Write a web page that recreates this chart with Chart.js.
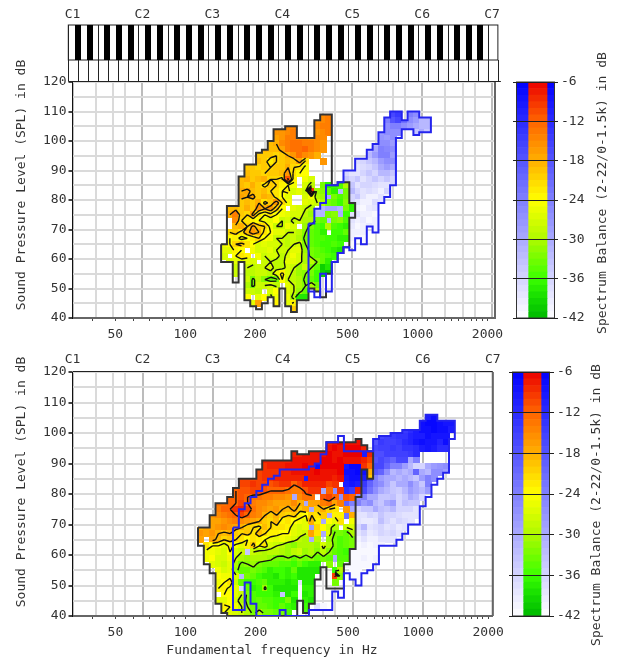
<!DOCTYPE html>
<html>
<head>
<meta charset="utf-8">
<title>Voice range profiles</title>
<script src="https://cdn.jsdelivr.net/npm/chart.js@4"></script>
<style>
html, body { margin: 0; padding: 0; background: #fff; }
canvas { position: absolute; }
</style>
</head>
<body>
<canvas id="topPlot" width="510" height="345" style="left:0;top:0"></canvas>
<canvas id="topBar" width="122" height="345" style="left:500px;top:0"></canvas>
<canvas id="bottomPlot" width="510" height="313" style="left:0;top:345px"></canvas>
<canvas id="bottomBar" width="122" height="313" style="left:500px;top:345px"></canvas>
<script>
"use strict";

// notes are semitones above C1, cells hold the balance in -dB, 0 is a gap
var TICK_HZ = [40, 50, 60, 70, 80, 90, 100, 150, 200, 250, 300, 350, 400, 450, 500, 550, 600, 650, 700, 750, 800, 850, 900, 950, 1000, 1100, 1200, 1300, 1400, 1500, 1600, 1700, 1800, 1900, 2000];
var LABEL_HZ = [50, 100, 200, 500, 1000, 2000];
var NOTE_OFFSETS = [0, 4, 7, 9];
var BLACK_KEYS = [1, 3, 6, 8, 10];
var BAR_TICK_DB = [-6, -12, -18, -24, -30, -36, -42];
var CONTOUR_LEVELS = [12, 18, 21, 24, 28, 32];

var topLowFirstNote = 26;
var topLowHigh = [65, 78, 78, 88, 92, 92, 96, 97, 100, 104, 104, 105, 105, 101, 101, 101, 107, 109, 109, 85, 86, 86, 79];
var topLowLow = [59, 59, 52, 59, 46, 44, 43, 45, 47, 44, 50, 44, 42, 46, 46, 50, 49, 47, 55, 59, 62, 64, 74];
var topLowRows = [
    [108, 43, 15, 14],
    [106, 42, 16, 15, 14],
    [104, 35, 17, 16, 15, 15, 0, 0, 0, 15, 14, 14],
    [102, 35, 16, 16, 15, 14, 0, 0, 0, 16, 15, 14],
    [100, 34, 18, 17, 16, 14, 14, 15, 15, 16, 15, 15, 0],
    [98, 34, 19, 18, 15, 14, 13, 13, 14, 14, 15, 16, 0],
    [96, 32, 20, 18, 19, 19, 17, 14, 13, 13, 12, 14, 15, 16, 0],
    [94, 30, 19, 20, 20, 20, 20, 21, 20, 18, 16, 13, 15, 16, 18, 0, 0],
    [92, 30, 19, 21, 19, 20, 23, 21, 20, 19, 20, 17, 22, 0, 0, 16, 0],
    [90, 29, 18, 20, 20, 21, 20, 21, 20, 20, 18, 21, 22, 25],
    [88, 29, 18, 19, 20, 20, 21, 20, 20, 19, 16, 22, 24, 24],
    [86, 29, 19, 18, 20, 19, 18, 21, 21, 22, 11, 23, 0, 25, 27, 0, 0, 0, 30, 30, 33],
    [84, 29, 19, 20, 18, 20, 22, 20, 21, 23, 24, 25, 0, 27, 29, 0, 33, 37, 36, 35, 30],
    [82, 29, 18, 17, 19, 20, 19, 21, 22, 24, 23, 27, 26, 28, 9, 31, 32, 34, 37, 0, 33],
    [80, 29, 17, 18, 17, 20, 18, 19, 22, 24, 26, 0, 0, 27, 25, 30, 31, 0, 33, 35, 33],
    [78, 27, 19, 17, 20, 19, 20, 18, 22, 20, 16, 21, 25, 0, 0, 26, 27, 28, 30, 33, 34, 36, 32, 38],
    [76, 27, 19, 19, 20, 18, 20, 16, 18, 16, 20, 24, 0, 26, 27, 28, 30, 0, 0, 0, 0, 0, 33, 37],
    [74, 27, 18, 14, 20, 21, 17, 22, 24, 22, 24, 25, 26, 27, 27, 29, 31, 0, 0, 33, 32, 0, 36],
    [72, 27, 0, 15, 21, 22, 23, 24, 25, 26, 24, 28, 27, 29, 28, 30, 30, 33, 34, 0, 33, 32, 35],
    [70, 27, 0, 19, 18, 21, 17, 20, 21, 25, 28, 28, 25, 27, 0, 31, 33, 35, 36, 30, 35, 36, 37],
    [68, 27, 21, 20, 22, 19, 16, 18, 22, 24, 26, 26, 28, 28, 29, 32, 34, 35, 37, 0, 36, 36, 34],
    [66, 27, 24, 23, 25, 24, 23, 21, 24, 25, 28, 28, 29, 28, 30, 33, 34, 35, 35, 36, 36, 37, 37],
    [64, 26, 25, 24, 21, 20, 22, 24, 27, 26, 27, 27, 28, 29, 28, 27, 32, 34, 35, 36, 36, 35, 36],
    [62, 26, 26, 26, 23, 24, 0, 25, 27, 27, 26, 28, 28, 28, 26, 26, 31, 33, 34, 35, 36, 37, 38],
    [60, 26, 27, 0, 24, 22, 23, 0, 25, 28, 27, 27, 29, 27, 25, 27, 30, 33, 34, 34, 35, 36],
    [58, 27, 27, 26, 26, 26, 27, 0, 28, 28, 29, 29, 26, 26, 27, 30, 29, 32, 34, 37],
    [56, 28, 28, 0, 28, 29, 28, 28, 27, 29, 29, 27, 28, 31, 28, 32, 34, 40, 38],
    [54, 28, 28, 0, 29, 29, 28, 28, 29, 26, 23, 27, 29, 31, 32, 33, 36, 40, 41],
    [52, 30, 28, 33, 29, 32, 34, 33, 24, 28, 29, 30, 33, 34, 36, 0],
    [50, 30, 30, 33, 28, 28, 27, 29, 0, 26, 28, 30, 32, 30, 33, 0],
    [48, 30, 28, 28, 29, 0, 27, 24, 26, 26, 28, 31, 34, 0, 30],
    [46, 30, 24, 0, 26, 24, 29, 25, 27, 25, 30, 38, 38],
    [44, 31, 26, 17, 0, 0, 23, 0, 26, 23],
    [42, 38, 20]
];

var topHighFirstNote = 41;
var topHighHigh = [72, 77, 79, 85, 85, 86, 90, 90, 94, 94, 97, 99, 103, 108, 110, 110, 107, 110, 110, 108, 108];
var topHighLow = [49, 47, 55, 49, 59, 62, 64, 63, 67, 65, 71, 69, 79, 81, 85, 101, 104, 104, 102, 103, 103];
var topHighRows = [
    [108, 54, 22, 16, 14, 0, 24, 26, 26, 28],
    [106, 54, 24, 18, 16, 22, 26, 28, 32, 32],
    [104, 53, 28, 26, 24, 24, 26, 28, 30, 32, 32],
    [102, 53, 28, 26, 26, 26, 0, 0, 34, 30, 34],
    [100, 53, 27, 28, 26, 0],
    [98, 52, 32, 26, 26, 28],
    [96, 51, 34, 30, 24, 25, 26],
    [94, 49, 36, 34, 32, 28, 24, 24, 28],
    [92, 49, 37, 36, 34, 32, 28, 26, 26],
    [90, 47, 0, 38, 38, 37, 36, 34, 30, 28, 30],
    [88, 47, 36, 38, 38, 36, 34, 36, 32, 32, 34],
    [86, 46, 30, 34, 36, 34, 38, 36, 34, 36, 34, 36],
    [84, 44, 32, 30, 30, 32, 34, 38, 36, 36, 37, 38, 38, 36],
    [82, 44, 30, 28, 32, 34, 32, 36, 38, 37, 38, 40, 36, 0],
    [80, 43, 32, 30, 30, 33, 36, 36, 34, 38, 40, 40, 38, 40],
    [78, 42, 34, 32, 30, 30, 32, 34, 36, 38, 40, 40, 37, 38],
    [76, 42, 33, 31, 29, 29, 31, 34, 38, 40, 41, 39, 38, 40],
    [74, 42, 32, 31, 30, 30, 30, 33, 38, 38, 40, 40, 41, 40],
    [72, 41, 34, 35, 33, 32, 33, 31, 33, 38, 40, 39, 41, 40, 41],
    [70, 41, 36, 36, 36, 34, 35, 36, 37, 39, 41, 40, 39, 40, 40],
    [68, 47, 37, 40, 40, 40, 38, 40],
    [66, 47, 38, 40, 41, 41],
    [64, 47, 40, 41]
];

var bottomLowFirstNote = 22;
var bottomLowHigh = [69, 69, 73, 77, 77, 79, 82, 85, 85, 85, 88, 91, 91, 91, 91, 91, 94, 93, 93, 94, 94, 94, 97, 97, 97, 97, 97, 98, 96, 94];
var bottomLowLow = [63, 57, 54, 44, 41, 40, 40, 40, 40, 40, 40, 40, 40, 40, 40, 40, 40, 45, 41, 44, 52, 56, 49, 49, 49, 57, 62, 79, 88, 85];
var bottomLowRows = [
    [96, 44, 8, 7, 6, 7, 7, 7],
    [94, 38, 8, 0, 0, 8, 7, 7, 7, 6, 7, 6, 6, 6, 8, 9],
    [92, 38, 8, 8, 7, 7, 7, 7, 6, 7, 7, 6, 6, 6, 0, 8],
    [90, 32, 9, 8, 8, 8, 8, 8, 7, 7, 7, 7, 7, 6, 6, 7, 6, 7, 7, 7, 8, 10],
    [88, 32, 9, 9, 8, 8, 8, 7, 7, 7, 6, 7, 0, 6, 6, 6, 6, 0, 0, 0, 9, 12],
    [86, 32, 10, 9, 9, 9, 8, 8, 7, 7, 7, 7, 6, 7, 7, 7, 6, 0, 0, 0, 0, 18],
    [84, 29, 10, 10, 10, 10, 9, 9, 8, 8, 8, 8, 8, 0, 7, 7, 7, 7, 8, 7, 0, 0, 0, 0, 20],
    [82, 28, 11, 10, 10, 9, 10, 10, 11, 10, 9, 9, 12, 10, 8, 8, 8, 8, 10, 9, 0, 0, 0, 0],
    [80, 28, 12, 11, 11, 10, 10, 11, 12, 12, 12, 13, 14, 14, 11, 9, 9, 0, 12, 0, 9, 0, 0, 8],
    [78, 27, 12, 12, 11, 12, 13, 13, 14, 14, 15, 15, 16, 0, 15, 13, 13, 0, 11, 10, 12, 0, 11, 12, 0],
    [76, 25, 13, 13, 12, 12, 10, 12, 14, 15, 15, 16, 17, 17, 17, 15, 18, 0, 17, 17, 14, 13, 17, 14, 0, 0],
    [74, 25, 14, 12, 12, 9, 8, 10, 13, 15, 16, 17, 16, 18, 19, 17, 20, 18, 0, 20, 18, 21, 22, 0, 16, 0],
    [72, 24, 16, 15, 14, 13, 12, 10, 12, 14, 15, 18, 20, 18, 20, 21, 20, 23, 24, 21, 22, 20, 0, 23, 23, 0, 18],
    [70, 24, 17, 17, 16, 15, 14, 15, 16, 17, 18, 20, 21, 19, 23, 22, 24, 25, 26, 18, 23, 0, 24, 26, 22, 0, 25],
    [68, 22, 18, 17, 17, 16, 15, 16, 17, 18, 20, 21, 22, 19, 21, 22, 22, 23, 26, 27, 26, 0, 21, 24, 27, 30, 0, 28, 27],
    [66, 22, 16, 17, 16, 18, 19, 18, 20, 21, 20, 22, 19, 21, 23, 23, 24, 24, 26, 27, 28, 17, 22, 0, 26, 33, 33, 34, 30],
    [64, 22, 17, 0, 17, 19, 21, 20, 21, 22, 24, 22, 23, 24, 25, 26, 25, 26, 27, 29, 30, 0, 29, 0, 31, 33, 35, 34, 33],
    [62, 23, 22, 24, 24, 26, 23, 25, 26, 23, 20, 24, 22, 27, 28, 29, 31, 32, 30, 30, 30, 31, 27, 30, 33, 35, 34, 33],
    [60, 23, 25, 25, 26, 27, 24, 27, 28, 0, 28, 29, 30, 29, 29, 30, 31, 29, 28, 31, 30, 32, 29, 32, 34, 35, 36],
    [58, 23, 25, 24, 27, 27, 25, 28, 30, 31, 30, 30, 30, 31, 33, 33, 32, 34, 32, 33, 32, 34, 33, 34, 0, 35, 35],
    [56, 24, 26, 27, 28, 26, 30, 33, 32, 31, 33, 34, 34, 34, 35, 35, 36, 34, 36, 37, 37, 0, 32, 0, 34],
    [54, 25, 25, 27, 26, 31, 34, 34, 33, 34, 35, 37, 36, 36, 37, 34, 38, 38, 38, 38, 0, 0, 36, 30],
    [52, 25, 24, 25, 25, 27, 0, 33, 34, 36, 37, 37, 38, 36, 37, 36, 38, 38, 38, 0, 0, 0, 10, 32],
    [50, 25, 25, 24, 22, 28, 34, 36, 36, 35, 34, 37, 37, 37, 38, 37, 0, 38, 38, 0, 0, 0, 33, 0],
    [48, 25, 24, 23, 25, 26, 0, 34, 37, 36, 31, 36, 38, 38, 38, 38, 0, 37, 37],
    [46, 25, 0, 24, 24, 26, 28, 33, 35, 36, 36, 36, 37, 0, 38, 36, 0, 38, 37],
    [44, 25, 26, 26, 24, 27, 30, 33, 35, 34, 35, 35, 36, 36, 33, 38, 0, 37, 38],
    [42, 26, 23, 24, 25, 28, 32, 33, 34, 34, 35, 36, 34, 36, 37, 0, 36, 37],
    [40, 26, 24, 26, 27, 28, 30, 33, 30, 33, 33, 34, 33, 35, 0, 0, 35, 0]
];

var bottomHighFirstNote = 28;
var bottomHighHigh = [69, 75, 77, 79, 81, 83, 85, 86, 88, 88, 88, 88, 88, 89, 90, 93, 97, 97, 99, 94, 94, 94, 94, 94, 98, 99, 99, 100, 100, 101, 101, 101, 104, 106, 106, 104, 104, 104];
var bottomHighLow = [42, 42, 51, 44, 40, 40, 40, 40, 42, 40, 40, 40, 40, 42, 42, 42, 42, 48, 46, 54, 52, 50, 54, 55, 57, 63, 63, 63, 65, 67, 70, 70, 76, 79, 83, 85, 87, 98];
var bottomHighRows = [
    [104, 60, 12, 10, 8, 8, 8, 9],
    [102, 57, 16, 12, 12, 8, 7, 7, 8, 9, 9],
    [100, 52, 24, 20, 18, 16, 16, 14, 12, 10, 8, 8, 7, 8, 8, 10],
    [98, 52, 20, 16, 15, 14, 13, 13, 11, 10, 10, 8, 9, 9, 9, 0],
    [96, 52, 18, 14, 15, 15, 14, 12, 11, 9, 8, 9, 9, 11, 8],
    [94, 50, 18, 16, 16, 15, 15, 14, 15, 13, 13, 12, 10, 9, 10, 12, 12],
    [92, 47, 8, 7, 8, 10, 14, 17, 17, 15, 15, 15, 15, 14, 12, 0, 0, 0, 0, 0],
    [90, 47, 8, 8, 7, 11, 12, 18, 16, 18, 20, 16, 16, 30, 24, 0, 0, 0, 0, 0],
    [88, 47, 9, 7, 7, 9, 11, 16, 16, 20, 24, 24, 28, 32, 36, 36, 30, 28, 27, 26],
    [86, 47, 8, 8, 7, 8, 13, 18, 20, 26, 32, 30, 32, 30, 20, 30, 32, 26, 26, 28],
    [84, 44, 20, 22, 14, 9, 8, 8, 10, 16, 24, 28, 30, 30, 32, 30, 32, 34, 28, 24, 26],
    [82, 47, 10, 9, 10, 14, 20, 24, 26, 30, 34, 30, 30, 26, 30, 34, 24],
    [80, 45, 26, 24, 12, 14, 16, 16, 22, 26, 30, 32, 34, 35, 32, 28, 30, 32, 28],
    [78, 46, 26, 16, 18, 26, 24, 30, 30, 34, 34, 33, 36, 34, 30, 32, 36],
    [76, 46, 26, 20, 24, 24, 28, 26, 32, 34, 30, 28, 36, 33, 34, 34],
    [74, 47, 24, 30, 36, 34, 34, 30, 33, 34, 32, 36, 36, 36, 38],
    [72, 47, 22, 32, 38, 38, 36, 37, 34, 36, 36, 37, 38, 38, 38],
    [70, 48, 30, 38, 39, 39, 38, 33, 36, 38, 36, 37, 38],
    [68, 48, 34, 36, 32, 38, 37, 36, 38, 37, 39, 38],
    [66, 49, 38, 36, 39, 38, 36, 37, 36, 38],
    [64, 49, 40, 38, 40, 40, 38, 38, 38],
    [62, 49, 41, 40, 41, 40, 40],
    [60, 48, 41, 41, 41, 41, 41],
    [58, 47, 41, 41, 41, 40, 41, 40],
    [56, 47, 40, 41, 41, 41, 41],
    [54, 48, 41, 41],
    [52, 48, 41, 41],
    [88, 42, 8],
    [84, 40, 10],
    [80, 43, 30],
    [78, 38, 30],
    [76, 40, 30],
    [74, 41, 30],
    [72, 44, 30],
    [70, 43, 30],
    [68, 41, 28],
    [66, 43, 30],
    [64, 41, 30],
    [58, 45, 30],
    [50, 39, 38],
    [48, 39, 41],
    [46, 39, 41],
    [44, 39, 41],
    [46, 36, 34],
    [60, 30, 34],
    [48, 29, 36],
    [52, 29, 32],
    [42, 42, 38],
    [42, 43, 41]
];

function noteHz(note) {
    return 32.703 * Math.pow(2, note / 12);
}

function mix(stops, v) {
    for (var i = 0; i < stops.length - 1; i++) {
        if (v >= stops[i][0] && v <= stops[i + 1][0]) {
            var t = (v - stops[i][0]) / (stops[i + 1][0] - stops[i][0]);
            var c = [1, 2, 3].map(function(k) {
                return Math.round(stops[i][k] + (stops[i + 1][k] - stops[i][k]) * t);
            });
            return 'rgb(' + c.join(',') + ')';
        }
    }
    return '#fff';
}

var WARM_STOPS = [[6, 235, 0, 0], [12, 255, 100, 0], [18, 255, 175, 0], [24, 255, 255, 0], [30, 175, 250, 0], [36, 60, 255, 0], [39, 20, 220, 0], [42, 0, 185, 0]];
var COOL_STOPS = [[6, 0, 0, 255], [42, 255, 255, 255]];

function warmColor(v) {
    return mix(WARM_STOPS, v);
}

function coolColor(v) {
    return mix(COOL_STOPS, v);
}

var imageCache = {};
function cellImage(color) {
    if (!imageCache[color]) {
        var c = document.createElement('canvas');
        c.width = 7;
        c.height = 4;
        var g = c.getContext('2d');
        g.fillStyle = color;
        g.fillRect(0, 0, 7, 4);
        imageCache[color] = c;
    }
    return imageCache[color];
}

function buildCells(rows, firstNote, high, low) {
    var cells = [];
    rows.forEach(function(r) {
        r.slice(2).forEach(function(v, i) {
            var col = r[1] + i - firstNote;
            if (v > 0 && col >= 0 && col < high.length) {
                for (var k = r[0]; k < r[0] + 2; k++) {
                    if (k >= low[col] && k < high[col]) {
                        cells.push({x: noteHz(r[1] + i), y: k + 0.5, v: v});
                    }
                }
            }
        });
    });
    return cells;
}

function buildOutline(firstNote, high, low) {
    var pts = [];
    high.forEach(function(h, i) {
        pts.push({x: noteHz(firstNote + i - 0.5), y: h});
        pts.push({x: noteHz(firstNote + i + 0.5), y: h});
    });
    for (var i = low.length - 1; i >= 0; i--) {
        pts.push({x: noteHz(firstNote + i + 0.5), y: low[i]});
        pts.push({x: noteHz(firstNote + i - 0.5), y: low[i]});
    }
    pts.push(pts[0]);
    return pts;
}

// iso lines over the cell grid, squares touching a gap are left out
function buildContours(rows, firstNote, high, low) {
    var grid = {};
    rows.forEach(function(r) {
        r.slice(2).forEach(function(v, i) {
            var col = r[1] + i - firstNote;
            if (v > 0 && r[0] + 1 >= low[col] && r[0] + 1 <= high[col]) {
                grid[(r[1] + i) + '_' + r[0]] = v;
            }
        });
    });
    var pts = [];
    function crossing(hits, l, n1, d1, n2, d2) {
        var a = grid[n1 + '_' + d1], b = grid[n2 + '_' + d2];
        if ((a < l) !== (b < l)) {
            var t = (l - a) / (b - a);
            hits.push({x: noteHz(n1 + (n2 - n1) * t), y: d1 + 1 + (d2 - d1) * t});
        }
    }
    CONTOUR_LEVELS.forEach(function(l) {
        for (var n = firstNote; n < firstNote + high.length - 1; n++) {
            for (var d = 40; d < 110; d += 2) {
                if (grid[n + '_' + d] && grid[(n + 1) + '_' + d] && grid[n + '_' + (d + 2)] && grid[(n + 1) + '_' + (d + 2)]) {
                    var hits = [];
                    crossing(hits, l, n, d, n + 1, d);
                    crossing(hits, l, n + 1, d, n + 1, d + 2);
                    crossing(hits, l, n + 1, d + 2, n, d + 2);
                    crossing(hits, l, n, d + 2, n, d);
                    for (var h = 0; h + 1 < hits.length; h += 2) {
                        pts.push(hits[h], hits[h + 1], {x: NaN, y: NaN});
                    }
                }
            }
        }
    });
    return pts;
}

function fixedSize(prop, size) {
    return function(scale) {
        scale[prop] = size;
    };
}

var sideTextPlugin = {
    id: 'sideText',
    afterDraw: function(chart, args, opts) {
        var ctx = chart.ctx;
        (opts.items || []).forEach(function(t) {
            ctx.save();
            ctx.translate(t.x, t.y);
            ctx.rotate(t.rotate ? -Math.PI / 2 : 0);
            ctx.font = '13px "DejaVu Sans Mono"';
            ctx.fillStyle = '#333';
            ctx.textAlign = 'center';
            ctx.textBaseline = 'middle';
            ctx.fillText(t.text, 0, 0);
            ctx.restore();
        });
    }
};

var framePlugin = {
    id: 'plotFrame',
    afterDatasetsDraw: function(chart) {
        var a = chart.chartArea, ctx = chart.ctx;
        ctx.save();
        ctx.strokeStyle = '#666';
        ctx.lineWidth = 2;
        ctx.beginPath();
        ctx.moveTo(a.right, a.top);
        ctx.lineTo(a.right, a.bottom);
        ctx.stroke();
        ctx.strokeStyle = '#222';
        ctx.lineWidth = 1;
        ctx.beginPath();
        ctx.moveTo(a.left, a.top - 0.5);
        ctx.lineTo(a.right, a.top - 0.5);
        ctx.stroke();
        ctx.restore();
    }
};

var keyboardPlugin = {
    id: 'keyboard',
    afterDraw: function(chart, args, opts) {
        if (!opts.show) {
            return;
        }
        var x = chart.scales.xNotes, ctx = chart.ctx;
        var top = 25, split = 60, bottom = chart.chartArea.top - 1;
        var left = x.getPixelForValue(noteHz(0)) - 4.2;
        var whiteWidth = (x.getPixelForValue(noteHz(12)) - x.getPixelForValue(noteHz(0))) / 7;
        ctx.save();
        ctx.fillStyle = '#fff';
        ctx.strokeStyle = '#222';
        ctx.lineWidth = 1;
        ctx.fillRect(left, top, whiteWidth * 43 + 2, bottom - top);
        ctx.strokeRect(left, top, whiteWidth * 43, split - top);
        for (var k = 0; k <= 43; k++) {
            var px = Math.round(left + k * whiteWidth) + 0.5;
            ctx.beginPath();
            ctx.moveTo(px, split);
            ctx.lineTo(px, bottom);
            ctx.stroke();
            if (k % 7 === 0 || k % 7 === 3) {
                ctx.beginPath();
                ctx.moveTo(px, top);
                ctx.lineTo(px, split);
                ctx.stroke();
            }
        }
        ctx.beginPath();
        ctx.moveTo(left, bottom + 0.5);
        ctx.lineTo(left + whiteWidth * 43 + 3, bottom + 0.5);
        ctx.stroke();
        ctx.fillStyle = '#000';
        for (var oct = 0; oct < 6; oct++) {
            BLACK_KEYS.forEach(function(n) {
                var cx = x.getPixelForValue(noteHz(oct * 12 + n));
                ctx.fillRect(Math.round(cx - 3), top, 6, split - top);
            });
        }
        ctx.restore();
    }
};

function makePlot(id, spec) {
    var notes = [];
    for (var oct = 0; oct <= 6; oct++) {
        NOTE_OFFSETS.forEach(function(o) {
            if (oct < 6 || o === 0) {
                notes.push(oct * 12 + o);
            }
        });
    }
    var lineStyle = {showLine: true, pointRadius: 0, fill: false, tension: 0, parsing: true, spanGaps: false};
    return new Chart(document.getElementById(id), {
        type: 'scatter',
        data: {
            datasets: [
                Object.assign({data: buildOutline(spec.highFirst, spec.highHigh, spec.highLow), borderColor: '#2424ee', borderWidth: 2, order: 0}, lineStyle),
                Object.assign({data: buildOutline(spec.lowFirst, spec.lowHigh, spec.lowLow), borderColor: '#333', borderWidth: 2, order: 1}, lineStyle),
                Object.assign({data: buildContours(spec.lowRows, spec.lowFirst, spec.lowHigh, spec.lowLow), borderColor: '#111', borderWidth: 1.4, order: 2}, lineStyle),
                {
                    data: buildCells(spec.lowRows, spec.lowFirst, spec.lowHigh, spec.lowLow),
                    pointRadius: 1,
                    pointStyle: function(c) { return cellImage(warmColor(c.raw.v)); },
                    order: 3
                },
                {
                    data: buildCells(spec.highRows, spec.highFirst, spec.highHigh, spec.highLow),
                    pointRadius: 1,
                    pointStyle: function(c) { return cellImage(coolColor(c.raw.v)); },
                    order: 4
                }
            ]
        },
        options: {
            responsive: false,
            animation: false,
            events: [],
            layout: {padding: {left: 0, right: spec.rightPad, top: 0, bottom: 0}},
            plugins: {
                legend: {display: false},
                tooltip: {enabled: false},
                sideText: {items: spec.titles},
                keyboard: {show: spec.keyboard}
            },
            scales: {
                x: {
                    type: 'logarithmic',
                    position: 'bottom',
                    min: noteHz(0),
                    max: noteHz(spec.lastNote),
                    afterFit: fixedSize('height', spec.belowPlot),
                    afterBuildTicks: function(scale) {
                        scale.ticks = TICK_HZ.map(function(v) { return {value: v}; });
                    },
                    grid: {drawOnChartArea: false, tickLength: 3, tickColor: '#444'},
                    border: {color: '#666', width: 2},
                    ticks: {
                        autoSkip: false,
                        maxRotation: 0,
                        padding: 6,
                        color: '#333',
                        font: {family: 'DejaVu Sans Mono', size: 13},
                        callback: function(v) {
                            return LABEL_HZ.indexOf(v) >= 0 ? String(v) : '';
                        }
                    }
                },
                xNotes: {
                    type: 'logarithmic',
                    position: 'top',
                    axis: 'x',
                    min: noteHz(0),
                    max: noteHz(spec.lastNote),
                    afterFit: function(scale) {
                        scale.height = spec.abovePlot;
                        scale.paddingLeft = 0;
                        scale.paddingRight = 0;
                    },
                    afterBuildTicks: function(scale) {
                        scale.ticks = notes.map(function(n) { return {value: noteHz(n)}; });
                    },
                    grid: {
                        drawTicks: false,
                        lineWidth: 2,
                        color: function(c) {
                            return notes[c.index] % 12 === 0 ? '#bcbcbc' : '#dadada';
                        }
                    },
                    border: {display: false},
                    ticks: {
                        autoSkip: false,
                        maxRotation: 0,
                        padding: spec.noteLabelPad,
                        color: '#333',
                        font: {family: 'DejaVu Sans Mono', size: 13},
                        callback: function(v, i) {
                            return notes[i] % 12 === 0 ? 'C' + (notes[i] / 12 + 1) : '';
                        }
                    }
                },
                y: {
                    min: 40,
                    max: 120,
                    afterFit: fixedSize('width', 72.5),
                    grid: {
                        lineWidth: 2,
                        color: '#dadada',
                        tickLength: 4,
                        tickColor: function(c) {
                            return c.tick.value % 10 === 0 ? '#444' : 'rgba(0,0,0,0)';
                        }
                    },
                    border: {color: '#111', width: 1},
                    ticks: {
                        stepSize: 5,
                        padding: 2,
                        autoSkip: false,
                        color: '#333',
                        font: {family: 'DejaVu Sans Mono', size: 13},
                        callback: function(v) {
                            return v % 10 === 0 ? String(v) : '';
                        }
                    }
                }
            }
        },
        plugins: [sideTextPlugin, framePlugin, keyboardPlugin]
    });
}

function makeBar(id, spec) {
    var levels = [], warm = [], cool = [];
    for (var v = 6; v < 42; v++) {
        levels.push(-v - 0.5);
        warm.push(warmColor(v + 0.5));
        cool.push(coolColor(v + 0.5));
    }
    var s = spec.splits;
    function span(a, b) {
        return levels.map(function() { return [a, b]; });
    }
    var barStyle = {barPercentage: 1, categoryPercentage: 1, borderWidth: 0, grouped: false};
    return new Chart(document.getElementById(id), {
        type: 'bar',
        data: {
            labels: levels,
            datasets: [
                Object.assign({data: span(s[0], s[1]), backgroundColor: cool}, barStyle),
                Object.assign({data: span(s[1], s[2]), backgroundColor: warm}, barStyle),
                Object.assign({data: span(s[2], s[3]), backgroundColor: cool}, barStyle)
            ]
        },
        options: {
            indexAxis: 'y',
            responsive: false,
            animation: false,
            events: [],
            layout: {padding: {left: spec.left, top: spec.top, bottom: spec.bottom, right: 0}},
            plugins: {
                legend: {display: false},
                tooltip: {enabled: false},
                sideText: {items: spec.titles}
            },
            scales: {
                x: {display: false, min: 0, max: 45},
                y: {display: false},
                yTicks: {
                    type: 'linear',
                    axis: 'y',
                    position: 'right',
                    offset: false,
                    min: -42,
                    max: -6,
                    afterFit: fixedSize('width', spec.axisWidth),
                    afterBuildTicks: function(scale) {
                        scale.ticks = BAR_TICK_DB.map(function(v) { return {value: v}; }).reverse();
                    },
                    grid: {z: 1, offset: false, color: '#222', lineWidth: 1, drawTicks: false},
                    border: {display: false},
                    ticks: {
                        autoSkip: false,
                        padding: 3,
                        color: '#333',
                        font: {family: 'DejaVu Sans Mono', size: 13}
                    }
                }
            }
        },
        plugins: [sideTextPlugin, {
            id: 'barFrame',
            afterDatasetsDraw: function(chart) {
                var x = chart.scales.x, a = chart.chartArea, ctx = chart.ctx;
                ctx.save();
                ctx.strokeStyle = '#333';
                ctx.lineWidth = 1;
                ctx.strokeRect(Math.round(x.getPixelForValue(s[0])) - 0.5, a.top, x.getPixelForValue(s[3]) - x.getPixelForValue(s[0]) + 1, a.bottom - a.top);
                ctx.restore();
            }
        }]
    });
}

makePlot('topPlot', {
    lowFirst: topLowFirstNote, lowHigh: topLowHigh, lowLow: topLowLow, lowRows: topLowRows,
    highFirst: topHighFirstNote, highHigh: topHighHigh, highLow: topHighLow, highRows: topHighRows,
    lastNote: 72.5, rightPad: 15, abovePlot: 82, belowPlot: 27, noteLabelPad: 60, keyboard: true,
    titles: [{text: 'Sound Pressure Level (SPL) in dB', x: 22, y: 185, rotate: true}]
});
makePlot('bottomPlot', {
    lowFirst: bottomLowFirstNote, lowHigh: bottomLowHigh, lowLow: bottomLowLow, lowRows: bottomLowRows,
    highFirst: bottomHighFirstNote, highHigh: bottomHighHigh, highLow: bottomHighLow, highRows: bottomHighRows,
    lastNote: 72, rightPad: 17, abovePlot: 27, belowPlot: 42, noteLabelPad: 5, keyboard: false,
    titles: [
        {text: 'Sound Pressure Level (SPL) in dB', x: 22, y: 137, rotate: true},
        {text: 'Fundamental frequency in Hz', x: 272, y: 306, rotate: false}
    ]
});
makeBar('topBar', {
    splits: [4, 15, 34, 41], left: 13, top: 82, bottom: 27, axisWidth: 64,
    titles: [{text: 'Spectrum Balance (2-22/0-1.5k) in dB', x: 103, y: 193, rotate: true}]
});
makeBar('bottomBar', {
    splits: [4, 14, 32, 40], left: 9, top: 27, bottom: 42, axisWidth: 68,
    titles: [{text: 'Spectrum Balance (2-22/0-1.5k) in dB', x: 97, y: 160, rotate: true}]
});
</script>
</body>
</html>
